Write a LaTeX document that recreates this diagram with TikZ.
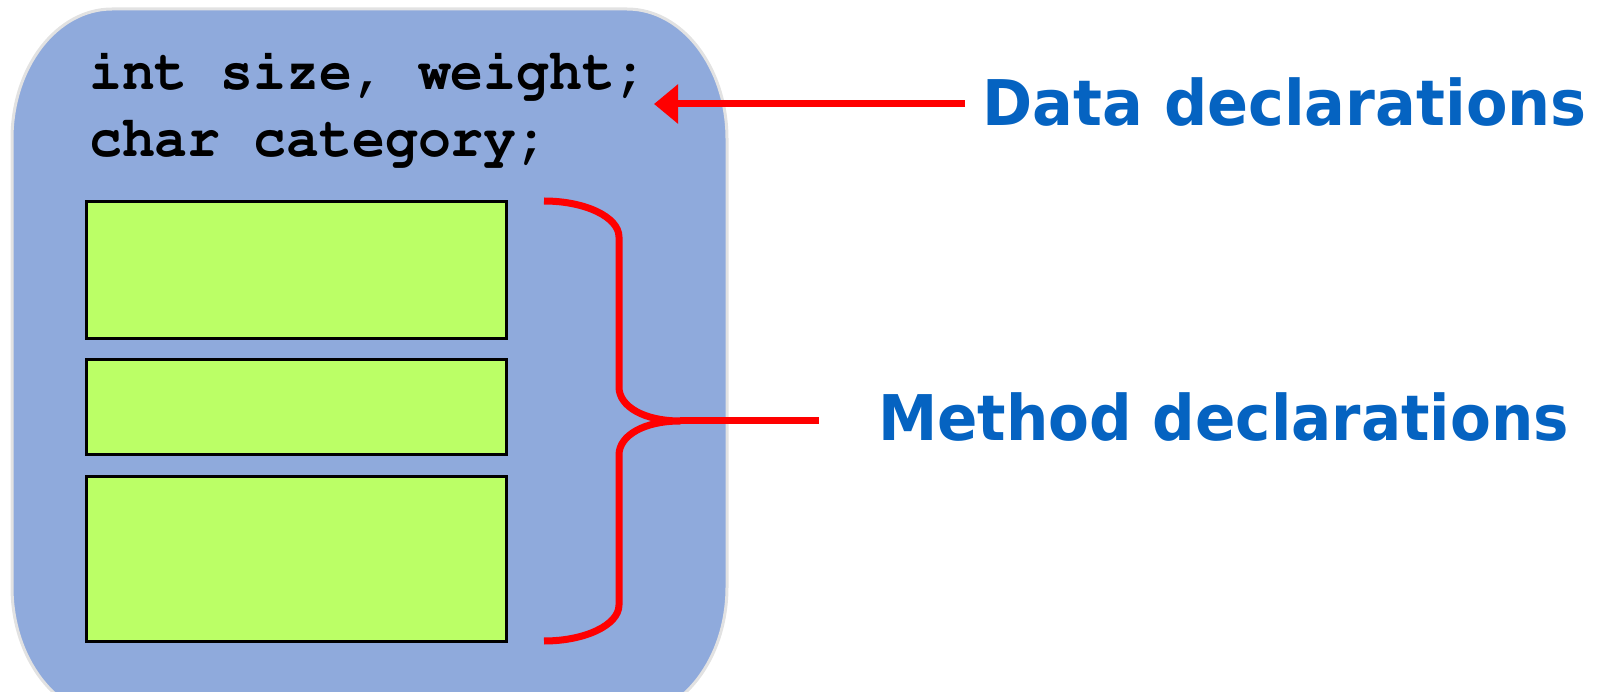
\documentclass[tikz,border=0pt]{standalone}
\usepackage{fontspec}
\usetikzlibrary{arrows.meta}
\newfontfamily\labelfont{DejaVu Sans}
% Courier (URW clone) for the source lines
\newcommand{\srcfont}{\fontencoding{T1}\fontfamily{pcr}\fontseries{b}\fontsize{58}{66}\selectfont}
\definecolor{panelblue}{HTML}{8FAADC}
\definecolor{panelrim}{HTML}{E2E2E2}
\definecolor{methodgreen}{HTML}{BBFF66}
\definecolor{labelblue}{HTML}{0563C1}
\definecolor{markred}{HTML}{FF0000}
\tikzset{
  panel/.style={draw=panelrim, line width=3pt, fill=panelblue},
  methodbox/.style={draw=black, line width=3pt, fill=methodgreen, rectangle,
    inner sep=0pt, outer sep=0pt},
  codeline/.style={inner sep=0pt, anchor=base west, font=\srcfont},
  caption/.style={inner sep=0pt, anchor=base west, text=labelblue,
    font=\labelfont\bfseries\fontsize{63}{72}\selectfont},
  marker/.style={draw=markred, line width=7pt, line join=round},
  pointer/.style={marker, -{Triangle[length=24pt, width=38pt]}},
}
\begin{document}
\begin{tikzpicture}[x=1pt, y=-1pt]
\useasboundingbox (0,0) rectangle (1599,692);

% class body: rounded panel running off the bottom edge
\path[panel] (112,9) -- (627,9)
  .. controls (682.2,9) and (727,67.2) .. (727,139) -- (727,587)
  .. controls (727,658.8) and (682.2,717) .. (627,717) -- (112,717)
  .. controls (56.8,717) and (12,658.8) .. (12,587) -- (12,139)
  .. controls (12,67.2) and (56.8,9) .. (112,9) -- cycle;

% field declarations
\node[codeline] (line1) at (89,90) {\scalebox{0.945}[1]{int size, weight;}};
\node[codeline] (line2) at (89,157) {\scalebox{0.945}[1]{char category;}};

% method blocks
\node[methodbox, minimum width=420pt, minimum height=137pt] (m1) at (296,270) {};
\node[methodbox, minimum width=420pt, minimum height=95pt] (m2) at (296,407) {};
\node[methodbox, minimum width=420pt, minimum height=165pt] (m3) at (296,559) {};

% labels
\node[caption] (dlabel) at (982,126) {\scalebox{0.96}[1]{Data declarations}};
\node[caption] (mlabel) at (878,441) {\scalebox{0.945}[1]{Method declarations}};

% pointer to the field declarations
\coordinate (dstart) at (965,104);
\coordinate (dtip) at (654,104);
\draw[pointer] (dstart) -- (dtip);

% brace around the methods
\coordinate (btop) at (544,201);
\coordinate (bbot) at (544,641);
\coordinate (bmid) at (680,421);
\coordinate (bend) at (819,421);
\draw[marker] (btop) .. controls (585,201) and (619,217) .. (619,237)
  -- (619,387) .. controls (619,407) and (645,421) .. (bmid)
  .. controls (645,421) and (619,435) .. (619,455)
  -- (619,605) .. controls (619,625) and (585,641) .. (bbot);
\draw[marker] (bmid) -- (bend);
\end{tikzpicture}
\end{document}
